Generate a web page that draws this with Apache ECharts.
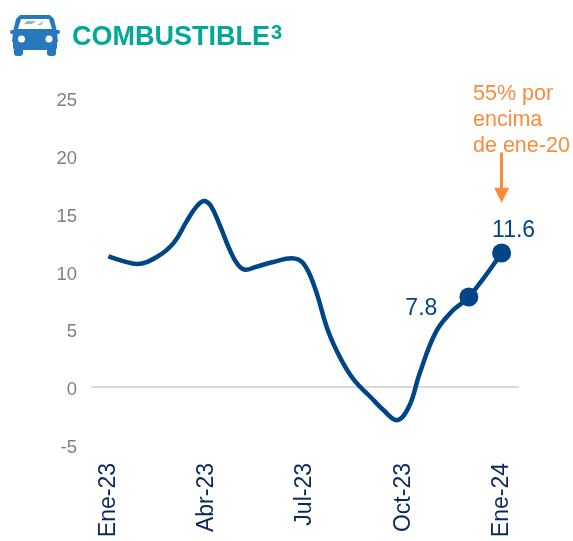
<!DOCTYPE html>
<html>
<head>
<meta charset="utf-8">
<style>html,body{margin:0;padding:0;background:#fff}#c{width:573px;height:541px}</style>
<script src="https://cdn.jsdelivr.net/npm/echarts@6/dist/echarts.min.js"></script>
</head>
<body>
<div id="c"></div>
<script>
// Curve readings: position in months since Ene-23, and value
const monthPos = [0,0.45,0.87,1.5,2,2.4,2.7,2.92,3.12,3.4,3.7,3.95,4.2,4.5,5,5.6,5.95,6.3,6.7,7.1,7.5,8,8.4,8.8,9.17,9.5,10,10.5,11,12];
const values = [11.3,10.9,10.65,11.3,12.5,14.4,15.65,16.1,15.7,14.0,11.9,10.6,10.15,10.4,10.8,11.15,10.7,8.6,4.9,2.4,0.6,-0.85,-2.0,-2.85,-1.7,1.2,4.8,6.6,7.8,11.6];
const tickMonths = [0,3,6,9,12];
const tickLabels = ['Ene-23','Abr-23','Jul-23','Oct-23','Ene-24'];
const labelledMonths = [11,12];
const labelSides = ['left','top'];
const NAVY = '#004586', ORANGE = '#fb8b3c', BLUE = '#2878bd', FONT = '"Liberation Sans", Arial, sans-serif';

const baseX = {type:'value',min:-0.5,max:12.5,interval:0.5,splitLine:{show:false},axisTick:{show:false}};
const chart = echarts.init(document.getElementById('c'), null, {renderer:'canvas'});
chart.setOption({
  animation:false,
  textStyle:{fontFamily:FONT},
  grid:{left:92,width:426,top:98,height:347},
  xAxis:[
    Object.assign({},baseX,{position:'bottom',axisLine:{show:false,onZero:false},
     axisLabel:{rotate:90,margin:18,fontSize:23,color:'#0a2a5c',fontFamily:FONT,hideOverlap:false,showMinLabel:true,showMaxLabel:true,
       formatter:v=>{const k=tickMonths.indexOf(v);return k<0?'':tickLabels[k];}}}),
    Object.assign({},baseX,{position:'top',axisLine:{show:true,onZero:true,lineStyle:{color:'#d9d9d9',width:2}},axisLabel:{show:false}})
  ],
  yAxis:{type:'value',min:-5,max:25,interval:5,splitLine:{show:false},axisLine:{show:false},axisTick:{show:false},
    axisLabel:{color:'#808080',fontSize:18.5,margin:15,fontFamily:FONT,verticalAlign:'top',lineHeight:6}},
  series:[{
    type:'line',data:monthPos.map((m,i)=>{
      const k = labelledMonths.indexOf(m);
      if(k<0) return {value:[m,values[i]],symbol:'none'};
      const pos = labelSides[k];
      return {value:[m,values[i]],symbol:'circle',symbolSize:19,
        label:{show:true,position:pos,distance:pos==='left'?22:1.5,formatter:p=>p.value[1].toFixed(1),fontSize:23,color:NAVY,fontFamily:FONT,offset:pos==='left'?[0,12]:[12,0]}};
    }),
    smooth:0.4,showSymbol:true,lineStyle:{color:NAVY,width:4.5},itemStyle:{color:NAVY},
    markLine:{silent:true,symbol:['none','triangle'],symbolSize:[15,15],precision:2,label:{show:false},
      lineStyle:{color:ORANGE,width:3,type:'solid'},
      data:[[{coord:[12,20.3]},{coord:[12,16.6]}]]}
  }],
  graphic:[
    {type:'text',x:72,y:24,style:{text:'COMBUSTIBLE',font:'bold 27px "Liberation Sans", Arial, sans-serif',fill:'#00a898'}},
    {type:'text',x:271,y:23,style:{text:'3',font:'bold 20px "Liberation Sans", Arial, sans-serif',fill:'#00a898'}},
    {type:'text',x:473,y:81,style:{text:'55% por\nencima\nde ene-20',font:'21.5px "Liberation Sans", Arial, sans-serif',lineHeight:26,fill:ORANGE}},
    {type:'polygon',shape:{points:[[20,15],[50,15],[54,19],[57,32],[58,42],[12,42],[13,32],[16,19]]},style:{fill:BLUE}},
    {type:'rect',shape:{x:10,y:30,width:50,height:4,r:2},style:{fill:BLUE}},
    {type:'rect',shape:{x:13,y:34,width:44,height:16,r:3},style:{fill:BLUE}},
    {type:'rect',shape:{x:14,y:44,width:9,height:12,r:3},style:{fill:BLUE}},
    {type:'rect',shape:{x:47,y:44,width:9,height:12,r:3},style:{fill:BLUE}},
    {type:'polygon',shape:{points:[[21,19],[49,19],[52,29],[18,29]]},style:{fill:'#fff'}},
    {type:'polygon',shape:{points:[[27,21],[36,21],[32,24],[24,24]]},style:{fill:BLUE,opacity:0.55}},
    {type:'polygon',shape:{points:[[37,25],[44,21],[41,25]]},style:{fill:BLUE,opacity:0.55}},
    {type:'circle',shape:{cx:21.5,cy:39,r:3.5},style:{fill:'#fff'}},
    {type:'circle',shape:{cx:49,cy:39,r:3.5},style:{fill:'#fff'}}
  ]
});
</script>
</body>
</html>
